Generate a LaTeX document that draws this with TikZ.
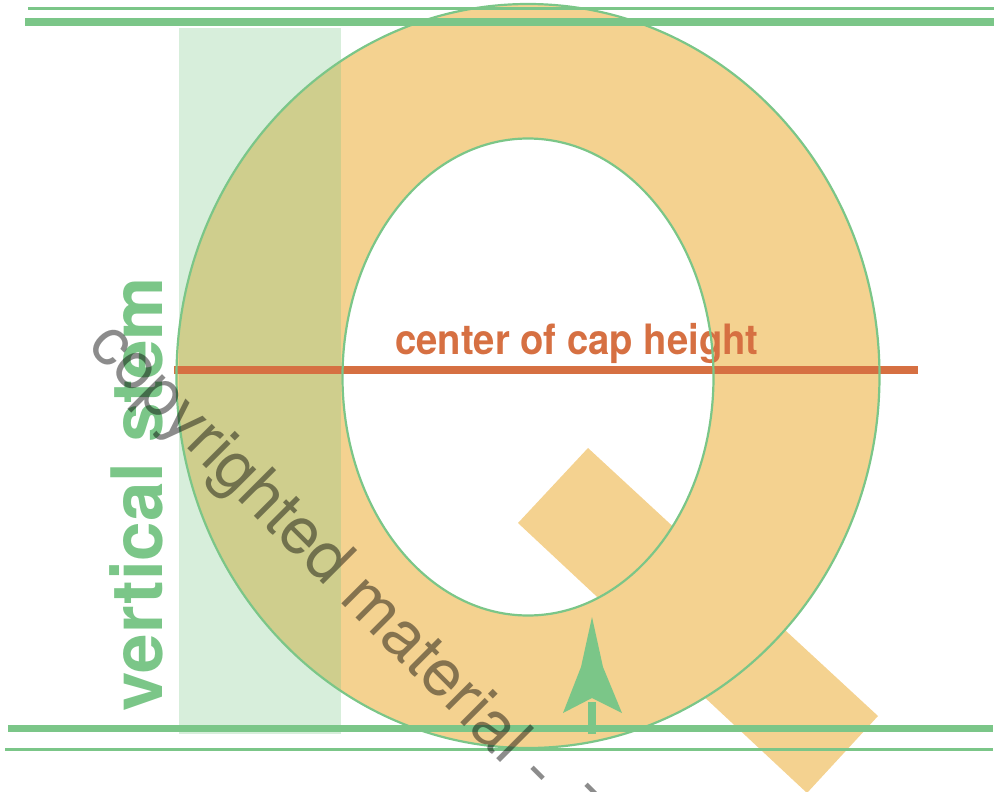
\documentclass[tikz,border=0pt]{standalone}
\usepackage{fontspec}
\usepackage{graphicx}
\setmainfont{TeX Gyre Heros}
\usetikzlibrary{calc}
\definecolor{qgreen}{RGB}{123,198,136}
\definecolor{qorange}{RGB}{244,210,144}
\definecolor{qred}{RGB}{214,112,66}
\begin{document}
\begin{tikzpicture}[x=1pt,y=-1pt,
  outline/.style={draw=qgreen,line width=2.2pt},
  thickrule/.style={draw=qgreen,line width=7.8pt},
  thinrule/.style={draw=qgreen,line width=2.5pt},
  caprule/.style={draw=qred,line width=7.7pt},
  wmark/.style={rotate=-45,anchor=base west,inner sep=0pt,text=black,text opacity=0.45,font=\fontsize{66}{70}\selectfont}
]
\useasboundingbox (0,0) rectangle (999,792);
\clip (0,0) rectangle (999,792);
% letter Q: ring and tail
\fill[qorange,even odd rule] (528,376) ellipse [x radius=351.5,y radius=372]
                              (528,377) ellipse [x radius=185.5,y radius=238.5];
\fill[qorange] (588,448) -- (878,716) -- (807,793) -- (518,523) -- cycle;
% vertical stem band
\fill[qgreen,opacity=0.3] (179,28) rectangle (341,734);
% guide lines
\coordinate (t1L) at (28,8.3);   \coordinate (t1R) at (994,8.3);
\coordinate (t2L) at (25,21.8);  \coordinate (t2R) at (994,21.8);
\coordinate (b1L) at (8,728.5);  \coordinate (b1R) at (993,728.5);
\coordinate (b2L) at (5,749.7);  \coordinate (b2R) at (993,749.7);
\coordinate (capL) at (174,370); \coordinate (capR) at (918,370);
\draw[thinrule] (t1L) -- (t1R);
\draw[thickrule] (t2L) -- (t2R);
\draw[thickrule] (b1L) -- (b1R);
\draw[thinrule] (b2L) -- (b2R);
\draw[caprule] (capL) -- (capR);
% labels
\node (captext) [anchor=base,inner sep=0pt,text=qred,font=\bfseries\fontsize{41.8}{48}\selectfont]
  at (577,354) {\scalebox{0.915}[1]{center of cap height}};
\node (stemtext) [rotate=90,anchor=base,inner sep=0pt,text=qgreen,font=\bfseries\fontsize{71}{80}\selectfont]
  at (162,494.5) {vertical stem};
% outlines of the Q
\draw[outline] (528,376) ellipse [x radius=351.5,y radius=372];
\draw[outline] (528,377) ellipse [x radius=185.5,y radius=238.5];
% arrow
\coordinate (arrowbase) at (592,734);
\coordinate (arrowtip) at (592,617);
\draw[qgreen,line width=8pt] (arrowbase) -- ($(arrowtip)+(0,85)$);
\fill[qgreen] (arrowtip) -- ++(11,50) -- ++(19,46) -- ++(-30,-15) -- ++(-29,15) -- ++(18,-46) -- cycle;
% watermark
\node (wm) [wmark] at (86,347.5) {copyrighted material -};
\node (wm2) [wmark] at (571.3,795.1) {-};
\end{tikzpicture}
\end{document}
